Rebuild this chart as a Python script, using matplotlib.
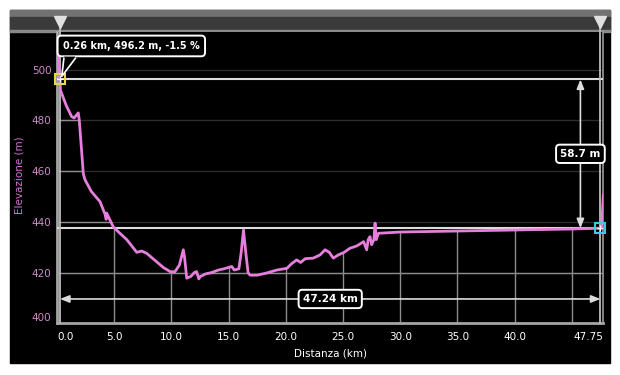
import matplotlib
matplotlib.use('Agg')
import matplotlib.pyplot as plt
from matplotlib.patches import Rectangle, Polygon
import numpy as np

# elevation profile
dist_km = [0.0, 0.26, 0.3, 0.8, 1.28, 1.5, 1.86, 1.95, 2.3, 2.45, 3.0, 3.76, 4.2, 4.3,
           4.34, 4.92, 5.5, 6.1, 6.97, 7.4, 7.84, 8.7, 9.3, 9.88, 10.3, 10.7, 11.04,
           11.15, 11.34, 11.7, 12.0, 12.2, 12.4, 12.5, 13.0, 13.5, 14.1, 14.6, 15.27,
           15.5, 15.9, 16.1, 16.3, 16.5, 16.7, 16.87, 17.5, 18.3, 19.2, 20.1, 20.5,
           20.95, 21.3, 21.7, 22.4, 23.0, 23.43, 23.8, 24.15, 24.6, 25.1, 25.6, 26.2,
           26.8, 27.07, 27.2, 27.36, 27.5, 27.7, 27.8, 27.9, 28.1, 30.0, 35.0, 40.0,
           45.0, 47.5, 47.6, 47.75]
elev_m = [510.0, 496.2, 492.0, 486.0, 481.5, 481.0, 483.0, 480.0, 459.0, 456.6, 452.0,
          448.0, 443.0, 441.0, 443.5, 438.0, 435.5, 433.0, 428.0, 428.5, 427.6, 424.3,
          422.0, 420.4, 420.3, 423.0, 429.0, 426.0, 417.8, 418.5, 420.0, 420.4, 417.5,
          418.4, 419.5, 420.0, 421.0, 421.5, 422.4, 421.0, 421.5, 428.0, 436.8, 428.0,
          420.0, 419.0, 419.0, 419.8, 421.0, 421.7, 423.5, 425.0, 424.0, 425.5, 425.7,
          427.0, 429.0, 428.0, 425.7, 427.0, 428.0, 429.6, 430.5, 432.2, 429.0, 433.0,
          434.2, 431.0, 433.0, 439.5, 433.0, 435.5, 436.0, 436.4, 436.8, 437.2, 437.5,
          437.5, 450.6]

x_ticks = [0, 5, 10, 15, 20, 25, 30, 35, 40, 47.75]
x_labels = ['0.0', '5.0', '10.0', '15.0', '20.0', '25.0', '30.0', '35.0', '40.0', '47.75']
x_grid = [5, 10, 15, 20, 25, 30, 35, 40, 45]
y_ticks = [400, 420, 440, 460, 480, 500]

cursor_a = (0.26, 496.2)
cursor_b = (47.5, 437.5)
tooltip = '0.26 km, 496.2 m, -1.5 %'
span_label = '47.24 km'
gain_label = '58.7 m'

C_LINE = '#e67fdc'
C_WHITE = '#dcdcdc'
W, H = 620, 375

fig = plt.figure(figsize=(6.2, 3.75), dpi=100)
fig.patch.set_facecolor('white')

def fig_rect(x0, y0, x1, y1, color):
    fig.patches.append(Rectangle((x0 / W, 1 - y1 / H), (x1 - x0) / W, (y1 - y0) / H,
                                 transform=fig.transFigure, color=color, zorder=-5))

fig_rect(10, 10, 610, 363, 'black')
fig_rect(10, 10, 610, 17.5, '#727272')
fig_rect(10, 17.5, 610, 31, '#3a3a3a')
fig_rect(10, 30.5, 610, 31.5, '#8a8a8a')

L, R, T, B = 57, 603.3, 32, 323.3
ax = fig.add_axes([L / W, 1 - B / H, (R - L) / W, (B - T) / H])
ax.set_facecolor('black')
ax.set_xlim(0, 47.75)
ax.set_ylim(400, 514.9)

# area under the profile: grid lines are brighter there
verts = list(zip(dist_km, elev_m)) + [(dist_km[-1], 400), (dist_km[0], 400)]
under = Polygon(verts, closed=True, fill=False, edgecolor='none', transform=ax.transData)
ax.add_patch(under)

for yv in y_ticks[1:]:
    ax.axhline(yv, color='#2c2c2c', lw=1, zorder=1)
    l = ax.axhline(yv, color='#8c8c8c', lw=1, zorder=1.5)
    l.set_clip_path(under)
for xv in x_grid:
    l = ax.axvline(xv, color='#8c8c8c', lw=1, zorder=1.5)
    l.set_clip_path(under)

ax.axhline(cursor_a[1], color=C_WHITE, lw=1.5, zorder=3)
ax.axhline(cursor_b[1], color=C_WHITE, lw=1.5, zorder=3)

xt = ax.get_xaxis_transform()
for cx in (cursor_a[0], cursor_b[0]):
    ax.plot([cx, cx], [0, 1.035], transform=xt, color='#bdbdbd', lw=1.3, clip_on=False, zorder=3)
    ax.plot([cx], [1.033], transform=xt, marker='v', ms=8, color='#e0e0e0', clip_on=False, zorder=6)

ax.plot(dist_km, elev_m, color=C_LINE, lw=2.0, zorder=4, solid_joinstyle='round')

# distance and height arrows
arrow = dict(arrowstyle='<|-|>,head_length=0.55,head_width=0.22', color=C_WHITE,
             lw=1.2, shrinkA=0, shrinkB=0)
y_arrow = 409.6
ax.annotate('', xy=(cursor_b[0], y_arrow), xytext=(cursor_a[0], y_arrow), arrowprops=arrow, zorder=5)
x_arrow = 45.75
ax.annotate('', xy=(x_arrow, cursor_a[1]), xytext=(x_arrow, cursor_b[1]), arrowprops=arrow, zorder=5)

box = dict(boxstyle='round,pad=0.4,rounding_size=0.35', fc='black', ec='white', lw=1.4)
ax.text((cursor_a[0] + cursor_b[0]) / 2, y_arrow, span_label, color='white', fontsize=7.5,
        fontweight='bold', ha='center', va='center', bbox=box, zorder=7)
ax.text(x_arrow, (cursor_a[1] + cursor_b[1]) / 2, gain_label, color='white', fontsize=7.5,
        fontweight='bold', ha='center', va='center', bbox=box, zorder=7)

# cursor markers
ax.plot(*cursor_a, marker='s', ms=7, mfc='none', mec='#e8d64a', mew=1.5, zorder=8, clip_on=False)
ax.plot(*cursor_a, marker='+', ms=4, color='white', mew=0.8, zorder=8)
ax.plot(*cursor_b, marker='s', ms=7, mfc='none', mec='#3cc8e6', mew=1.5, zorder=8, clip_on=False)
ax.plot(*cursor_b, marker='+', ms=4, color='white', mew=0.8, zorder=8)

# tooltip with pointer
ax.text(0.52, 509.4, tooltip, color='white', fontsize=7, fontweight='bold', ha='left',
        va='center', bbox=dict(boxstyle='round,pad=0.55,rounding_size=0.4', fc='black',
                               ec='white', lw=1.4), zorder=9, clip_on=False)
ax.add_patch(Polygon([(0.6, 505.2), (0.42, 497.4), (1.6, 505.2)], closed=True,
                     fc='black', ec='none', zorder=10))
ax.plot([0.6, 0.42, 1.6], [504.5, 497.4, 504.5], color='white', lw=1.2, zorder=10)

# axes styling
for side in ('left', 'bottom'):
    ax.spines[side].set_color('#a5a5a5')
    ax.spines[side].set_linewidth(2)
ax.spines['right'].set_color('#9a9a9a')
ax.spines['right'].set_linewidth(1.2)
ax.spines['top'].set_visible(False)

ax.set_xticks(x_ticks)
ax.set_xticklabels(x_labels)
ax.set_yticks(y_ticks)
ax.tick_params(axis='x', length=0, pad=6, colors='white', labelsize=7.5)
ax.tick_params(axis='y', length=0, pad=4, colors='#c98cc6', labelsize=7.5)
xl = ax.get_xticklabels()
xl[0].set_ha('left')
xl[-1].set_ha('right')
ax.get_yticklabels()[0].set_va('bottom')

ax.set_xlabel('Distanza (km)', color='white', fontsize=7.5)
ax.xaxis.set_label_coords(0.5, -0.085)
ax.set_ylabel('Elevazione (m)', color='#d472d0', fontsize=7.5)
ax.yaxis.set_label_coords(-0.06, 0.51)

fig.savefig('out.png', dpi=100, facecolor='white')
